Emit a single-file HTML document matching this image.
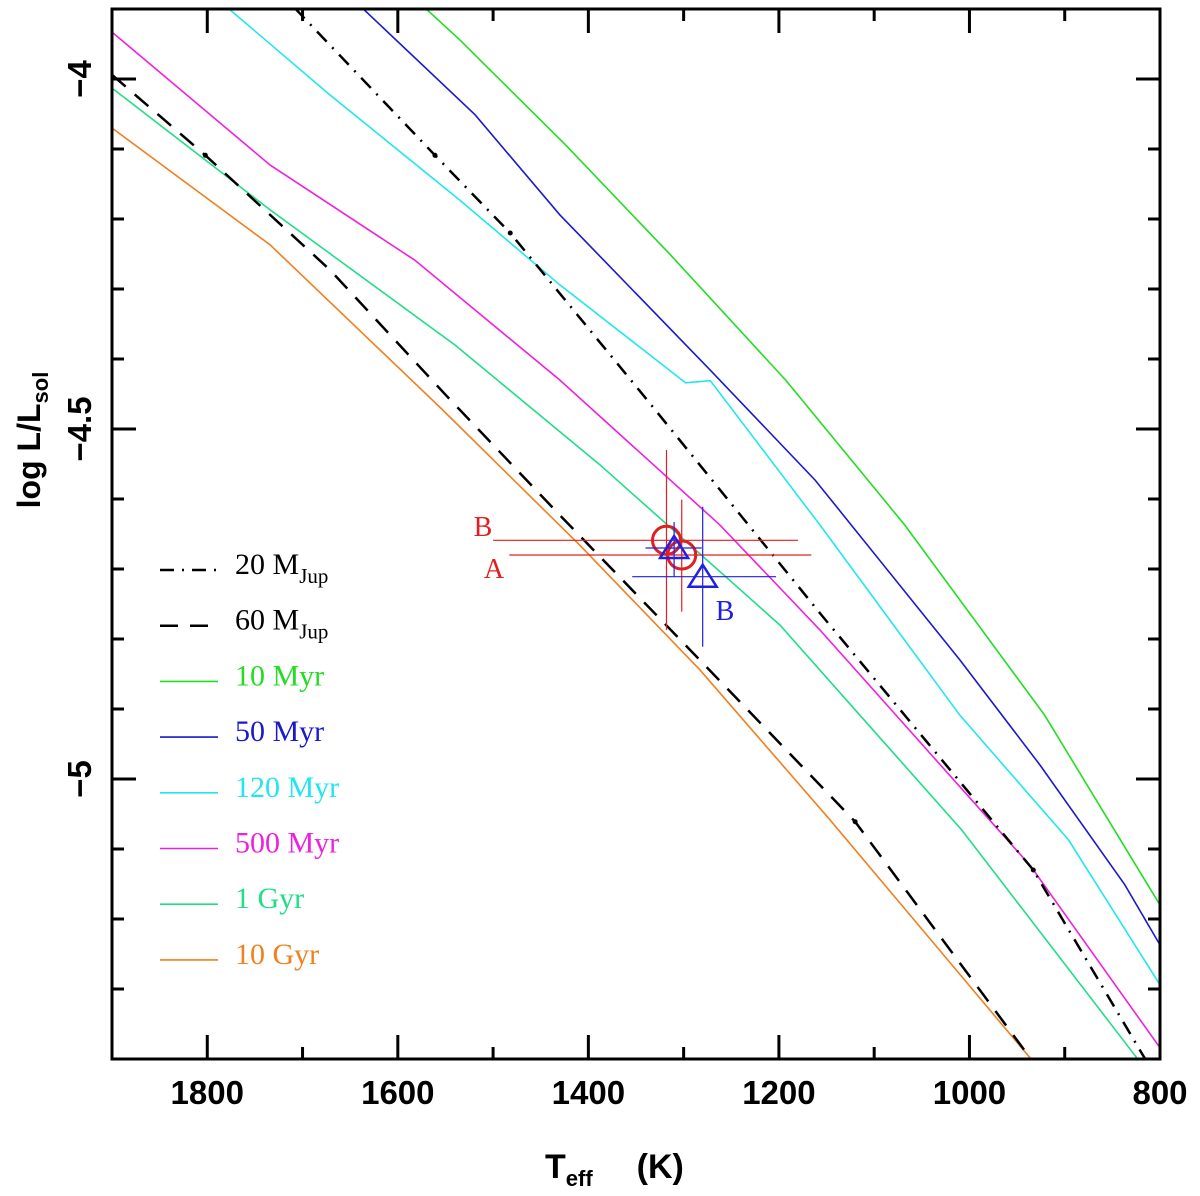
<!DOCTYPE html>
<html><head><meta charset="utf-8"><style>
body{margin:0;background:#fff}
svg text{font-family:"Liberation Serif",serif}
.tick{font-family:"Liberation Sans",sans-serif;font-weight:bold;font-size:33px}
</style></head><body>
<svg id="c" width="1200" height="1191" xmlns="http://www.w3.org/2000/svg">
<rect width="1200" height="1191" fill="#fff"/>
<g id="curves"></g>
<g id="pts"></g>
<rect x="112" y="9" width="1048" height="1050" fill="none" stroke="#000" stroke-width="3"/>
<g id="ticks"></g>
<text x="545" y="1178" style="font-family:'Liberation Sans',sans-serif;font-weight:bold;font-size:34px">T<tspan font-size="22" dy="8">eff</tspan><tspan dy="-8" dx="44">(K)</tspan></text>
<text transform="translate(40,440) rotate(-90)" text-anchor="middle" style="font-family:'Liberation Sans',sans-serif;font-weight:bold;font-size:32px">log L/L<tspan font-size="22" dy="8">sol</tspan></text>
<g id="legend"></g>
</svg>
<script>
const tempTicks=[1800,1600,1400,1200,1000,800];
const lumTicks=[-4,-4.5,-5];
const g10Myr_T=[1571,1535,1424,1314,1193,1068,921,800];
const g10Myr_L=[-3.899,-3.944,-4.094,-4.251,-4.430,-4.637,-4.909,-5.180];
const b50Myr_T=[1637,1519,1430,1272,1162,1010,926,837,800];
const b50Myr_L=[-3.899,-4.051,-4.194,-4.416,-4.573,-4.830,-4.980,-5.151,-5.237];
const c120Myr_T=[1778,1671,1535,1430,1298,1272,1157,1010,896,800];
const c120Myr_L=[-3.899,-4.023,-4.173,-4.294,-4.434,-4.431,-4.637,-4.909,-5.087,-5.294];
const m500Myr_T=[1900,1734,1582,1430,1262,1157,936,800];
const m500Myr_L=[-3.933,-4.123,-4.259,-4.430,-4.637,-4.787,-5.124,-5.384];
const s1Gyr_T=[1900,1734,1540,1388,1199,1008,824];
const s1Gyr_L=[-4.013,-4.187,-4.380,-4.551,-4.780,-5.073,-5.399];
const o10Gyr_T=[1900,1734,1555,1409,1283,1146,936];
const o10Gyr_L=[-4.070,-4.237,-4.470,-4.666,-4.844,-5.059,-5.399];
const m20_T=[1708,1561,1482,1338,1157,933,816];
const m20_L=[-3.899,-4.109,-4.220,-4.459,-4.763,-5.130,-5.399];
const m60_T=[1900,1802,1671,1550,1430,1283,1120,936];
const m60_L=[-3.994,-4.109,-4.273,-4.451,-4.623,-4.830,-5.061,-5.399];
const dot_T=[1802,1561,1482,1120,933];
const dot_L=[-4.109,-4.109,-4.220,-5.061,-5.130];
const obsRed_T=[1318,1302];const obsRed_L=[-4.659,-4.680];
const obsRed_Tlo=[1180,1166];const obsRed_Thi=[1500,1483];
const obsRed_Llo=[-4.787,-4.761];const obsRed_Lhi=[-4.530,-4.601];
const obsBlue_T=[1310,1280];const obsBlue_L=[-4.670,-4.711];
const obsBlue_Tlo=[1281,1203];const obsBlue_Thi=[1340,1354];
const obsBlue_Llo=[-4.711,-4.811];const obsBlue_Lhi=[-4.633,-4.611];
const NS="http://www.w3.org/2000/svg";
const X=t=>112+(1900-t)/1100*1048;
const Y=l=>9+(-3.9-l)/1.5*1050;
function el(tag,at,par){const e=document.createElementNS(NS,tag);for(const k in at)e.setAttribute(k,at[k]);document.getElementById(par).appendChild(e);return e;}
const cp=el('clipPath',{id:'cl'},'curves');el('rect',{x:112,y:9,width:1048,height:1050},'curves');cp.appendChild(document.getElementById('curves').lastChild);
function curve(T,L,col,dash,name){const p=el('polyline',{points:T.map((t,i)=>X(t)+','+Y(L[i])).join(' '),fill:'none',stroke:col,'stroke-width':dash?2.5:1.6,'stroke-dasharray':dash||'none','clip-path':'url(#cl)'},'curves');

}
curve(g10Myr_T,g10Myr_L,'#22dd22',null,'isochrone-10myr');
curve(b50Myr_T,b50Myr_L,'#1a1acc',null,'isochrone-50myr');
curve(c120Myr_T,c120Myr_L,'#22e6ee',null,'isochrone-120myr');
curve(m500Myr_T,m500Myr_L,'#ee22dd',null,'isochrone-500myr');
curve(s1Gyr_T,s1Gyr_L,'#22dd88',null,'isochrone-1gyr');
curve(o10Gyr_T,o10Gyr_L,'#f08020',null,'isochrone-10gyr');
curve(m20_T,m20_L,'#000','14,8,2,8','track-20mjup');
curve(m60_T,m60_L,'#000','18,12','track-60mjup');
dot_T.forEach((t,i)=>{const c=el('circle',{cx:X(t),cy:Y(dot_L[i]),r:2.5,fill:'#000'},'curves');

});
obsRed_T.forEach((t,i)=>{
const h=el('line',{x1:X(obsRed_Thi[i]),x2:X(obsRed_Tlo[i]),y1:Y(obsRed_L[i]),y2:Y(obsRed_L[i]),stroke:'#e02020','stroke-width':1.2},'pts');


const v=el('line',{x1:X(t),x2:X(t),y1:Y(obsRed_Lhi[i]),y2:Y(obsRed_Llo[i]),stroke:'#e02020','stroke-width':1.2},'pts');


const c=el('circle',{cx:X(t),cy:Y(obsRed_L[i]),r:14,fill:'none',stroke:'#e02020','stroke-width':3},'pts');

});
obsBlue_T.forEach((t,i)=>{
const h=el('line',{x1:X(obsBlue_Thi[i]),x2:X(obsBlue_Tlo[i]),y1:Y(obsBlue_L[i]),y2:Y(obsBlue_L[i]),stroke:'#2020e0','stroke-width':1.2},'pts');


const v=el('line',{x1:X(t),x2:X(t),y1:Y(obsBlue_Lhi[i]),y2:Y(obsBlue_Llo[i]),stroke:'#2020e0','stroke-width':1.2},'pts');


const x=X(t),y=Y(obsBlue_L[i]);
const p=el('polygon',{points:`${x-14},${y+10} ${x+14},${y+10} ${x},${y-12}`,fill:'none',stroke:'#2020e0','stroke-width':2.5},'pts');

});
[['B',483,536,'#e02020'],['A',494,578,'#e02020'],['B',725,620,'#2020e0']].forEach(a=>{const t=el('text',{x:a[1],y:a[2],'text-anchor':'middle','font-size':28,fill:a[3]},'pts');t.textContent=a[0];

});
for(let t=1900;t>=800;t-=100){const maj=t%200===0;el('line',{x1:X(t),x2:X(t),y1:1059,y2:1059-(maj?24:12),stroke:'#000','stroke-width':3},'ticks');el('line',{x1:X(t),x2:X(t),y1:9,y2:9+(maj?24:12),stroke:'#000','stroke-width':3},'ticks');}
for(let k=0;k<=15;k++){const l=-3.9-k*0.1;const maj=Math.abs(l*10)%5<0.01;el('line',{x1:112,x2:112+(maj?24:12),y1:Y(l),y2:Y(l),stroke:'#000','stroke-width':3},'ticks');el('line',{x1:1160,x2:1160-(maj?24:12),y1:Y(l),y2:Y(l),stroke:'#000','stroke-width':3},'ticks');}
tempTicks.forEach(t=>{const e=el('text',{x:X(t),y:1104,'text-anchor':'middle',class:'tick'},'ticks');e.textContent=t;

});
lumTicks.forEach(l=>{const e=el('text',{transform:`translate(91,${Y(l)}) rotate(-90)`,'text-anchor':'middle',class:'tick'},'ticks');e.textContent=String(l).replace('-','\u2212');

});
const leg=[['#000','14,8,2,8','20 M','Jup'],['#000','18,12','60 M','Jup'],['#22dd22',null,'10 Myr'],['#1a1acc',null,'50 Myr'],['#22e6ee',null,'120 Myr'],['#ee22dd',null,'500 Myr'],['#22dd88',null,'1 Gyr'],['#f08020',null,'10 Gyr']];
leg.forEach((e,i)=>{const y=570+i*55.7;
const l=el('line',{x1:160,x2:218,y1:y,y2:y,stroke:e[0],'stroke-width':e[1]?2.5:1.6,'stroke-dasharray':e[1]||'none'},'legend');


const t=el('text',{x:235,y:y+4,'font-size':30,fill:e[0]},'legend');


t.textContent=e[2];if(e[3]){const s=document.createElementNS(NS,'tspan');s.setAttribute('font-size','21');s.setAttribute('dy','9');s.textContent=e[3];t.appendChild(s);}});
</script>
</body></html>
